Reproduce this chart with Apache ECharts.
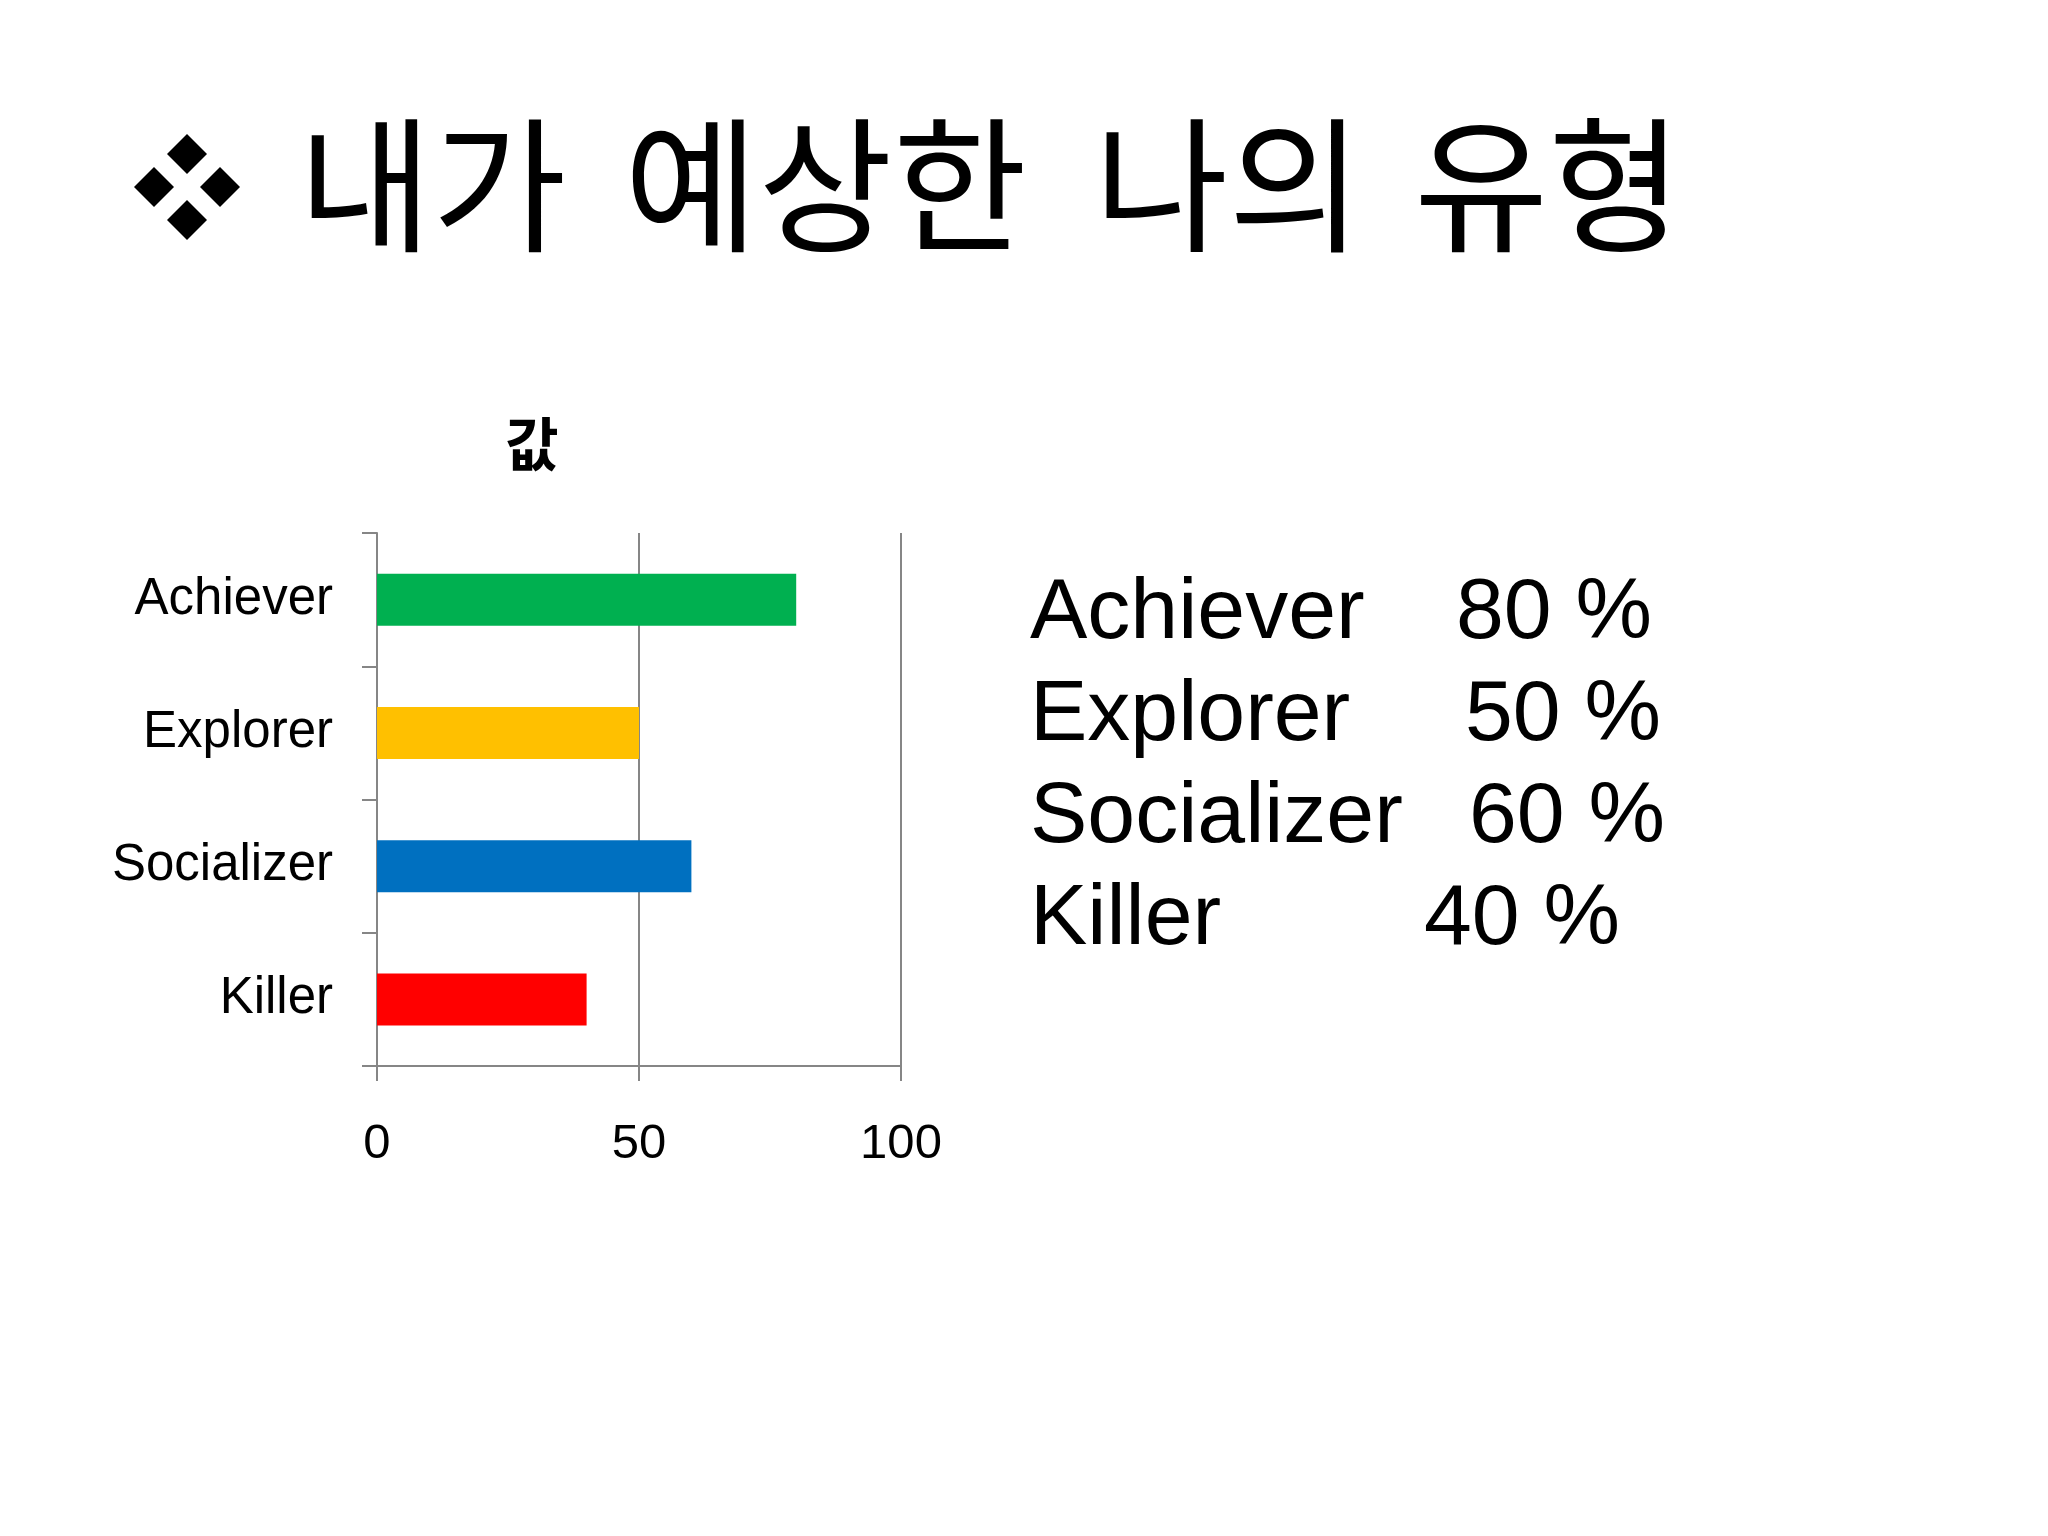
<!DOCTYPE html>
<html>
<head>
<meta charset="utf-8">
<script src="https://cdn.jsdelivr.net/npm/echarts@6/dist/echarts.min.js"></script>
<style>
  html, body { margin: 0; padding: 0; background: #fff; }
  #main { width: 2048px; height: 1536px; }
</style>
</head>
<body>
<div id="main"></div>
<script>
var categories = ['Achiever', 'Explorer', 'Socializer', 'Killer'];
var values = [80, 50, 60, 40];
var barColors = ['#00B050', '#FFC000', '#0070C0', '#FF0000'];
var xTicks = [0, 50, 100];
var titleWords = ['내가', '예상한', '나의', '유형'];

var myChart = echarts.init(document.getElementById('main'));

// 오른쪽 텍스트 (이름 + 퍼센트)
var valueX = [1456, 1465, 1469, 1424];
var textEls = [];
for (var i = 0; i < categories.length; i++) {
    var cy = 621 + i * 102;
    textEls.push({
        type: 'text', left: 1030, top: cy - 50,
        style: { text: categories[i], font: '86px "Liberation Sans", Arial', fill: '#000' }
    });
    textEls.push({
        type: 'text', left: valueX[i], top: cy - 50,
        style: { text: values[i] + ' %', font: '86px "Liberation Sans", Arial', fill: '#000' }
    });
}

// ❖ 글머리 기호
var diamonds = [[187, 154], [154, 187], [220, 187], [187, 220]];
var h = 20;
diamonds.forEach(function (c) {
    textEls.push({
        type: 'polygon',
        shape: { points: [[c[0], c[1] - h], [c[0] + h, c[1]], [c[0], c[1] + h], [c[0] - h, c[1]]] },
        style: { fill: '#000' }
    });
});

// 제목 (단어별로 배치)
var wordX = [298, 624, 1094, 1414];
titleWords.forEach(function (w, i) {
    textEls.push({
        type: 'text', left: wordX[i], top: 112,
        style: { text: w, font: '146px "Noto Sans CJK KR"', fill: '#000' }
    });
});

var option = {
    backgroundColor: '#fff',
    animation: false,
    title: {
        text: '값',
        left: 527,
        top: 410,
        textAlign: 'center',
        textStyle: { fontFamily: 'Noto Sans CJK KR', fontWeight: 'bold', fontSize: 58, color: '#000' }
    },
    grid: { left: 377, right: 1147, top: 533, height: 533, containLabel: false },
    xAxis: {
        type: 'value',
        min: 0, max: 100, interval: 50,
        axisLine: { show: true, lineStyle: { color: '#868686', width: 2 } },
        axisTick: { show: true, length: 15, lineStyle: { color: '#868686', width: 2 } },
        splitLine: { show: true, lineStyle: { color: '#868686', width: 2 } },
        axisLabel: {
            margin: 54, fontSize: 49, color: '#000', fontFamily: 'Liberation Sans',
            formatter: function (v) { return xTicks.indexOf(v) >= 0 ? String(v) : ''; }
        }
    },
    yAxis: {
        type: 'category',
        inverse: true,
        data: categories,
        axisLine: { show: true, lineStyle: { color: '#868686', width: 2 } },
        axisTick: { show: true, length: 15, lineStyle: { color: '#868686', width: 2 } },
        axisLabel: { margin: 44, fontSize: 51, color: '#000', fontFamily: 'Liberation Sans', padding: [6, 0, 0, 0] }
    },
    series: [{
        type: 'bar',
        data: values.map(function (v, i) {
            return { value: v, itemStyle: { color: barColors[i] } };
        }),
        barWidth: 52
    }],
    graphic: textEls
};

myChart.setOption(option);
window.addEventListener('resize', function () { myChart.resize(); });
</script>
</body>
</html>
